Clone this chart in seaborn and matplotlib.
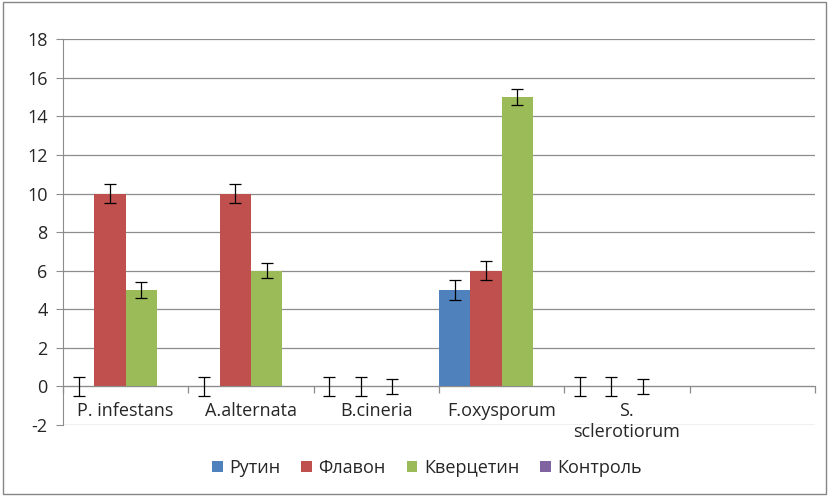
import numpy as np
import pandas as pd
import matplotlib
matplotlib.use("Agg")
import matplotlib.pyplot as plt
from matplotlib.patches import Rectangle
from matplotlib.ticker import FixedLocator, MultipleLocator
import seaborn as sns

# --- данные ---
categories = ["P. infestans", "A.alternata", "B.cineria", "F.oxysporum", "S.\nsclerotiorum", ""]
series = ["Рутин", "Флавон", "Кверцетин", "Контроль"]
colors = ["#4F81BD", "#C0504D", "#9BBB59", "#8064A2"]

rutin = [0, 0, 0, 5, 0, np.nan]
flavon = [10, 10, 0, 6, 0, np.nan]
kvercetin = [5, 6, 0, 15, 0, np.nan]
control = [0, 0, 0, 0, 0, np.nan]

rutin_err = [0.5, 0.5, 0.5, 0.5, 0.5, np.nan]
flavon_err = [0.5, 0.5, 0.5, 0.5, 0.5, np.nan]
kvercetin_err = [0.4, 0.4, 0.4, 0.4, 0.4, np.nan]
control_err = [np.nan] * 6

values = [rutin, flavon, kvercetin, control]
errors = [rutin_err, flavon_err, kvercetin_err, control_err]

rows = []
for s, vals in zip(series, values):
    for c, v in zip(categories, vals):
        rows.append({"category": c, "series": s, "value": v})
df = pd.DataFrame(rows)

sns.set_style("white")
plt.rcParams['font.family'] = ['Open Sans', 'DejaVu Sans']
plt.rcParams['axes.unicode_minus'] = False

FS = 13

fig, ax = plt.subplots(figsize=(8.29, 4.96), dpi=100)
fig.subplots_adjust(left=0.076, right=0.983, top=0.921, bottom=0.143)

sns.barplot(data=df, x="category", y="value", hue="series", order=categories,
            hue_order=series, palette=colors, width=1.0, linewidth=0,
            errorbar=None, saturation=1, ax=ax)

# планки погрешностей по центрам столбцов
bar_conts = list(ax.containers)
for i, cont in enumerate(bar_conts):
    for p in cont.patches:
        xc = p.get_x() + p.get_width() / 2
        ci = int(round(xc))
        err = errors[i][ci]
        if np.isnan(err):
            continue
        ax.errorbar(xc, p.get_height(), yerr=err, fmt='none', ecolor='black',
                    elinewidth=0.9, capsize=4, capthick=0.9, zorder=5)

ax.set_ylim(-2, 18)
ax.set_xlim(-0.5, len(categories) - 0.5)
ax.yaxis.set_major_locator(MultipleLocator(2))
ax.grid(axis='y', color='#8c8c8c', linewidth=0.9)
ax.set_axisbelow(True)

for side in ['top', 'right']:
    ax.spines[side].set_visible(False)
ax.spines['left'].set_color('#8c8c8c')
ax.spines['bottom'].set_color('#8c8c8c')
ax.spines['bottom'].set_position(('data', 0))

ax.xaxis.set_minor_locator(FixedLocator(np.arange(-0.5, len(categories), 1.0)))
ax.tick_params(axis='x', which='major', length=0, pad=11, labelsize=FS, bottom=True)
ax.tick_params(axis='x', which='minor', length=5, width=0.9, color='#8c8c8c',
               direction='out', bottom=True)
ax.tick_params(axis='y', length=5, color='#8c8c8c', pad=6, labelsize=FS, left=True)

ax.set_xlabel("")
ax.set_ylabel("")

sns.move_legend(ax, "center", bbox_to_anchor=(0.484, -0.111), ncol=4, frameon=False,
                title=None, handlelength=0.6, handleheight=0.6, handletextpad=0.35,
                columnspacing=1.15, fontsize=FS)

fig.patches.append(Rectangle((0.004, 0.004), 0.992, 0.992, transform=fig.transFigure,
                             fill=False, edgecolor='#868686', linewidth=1))

plt.savefig('out.png', dpi=100)
